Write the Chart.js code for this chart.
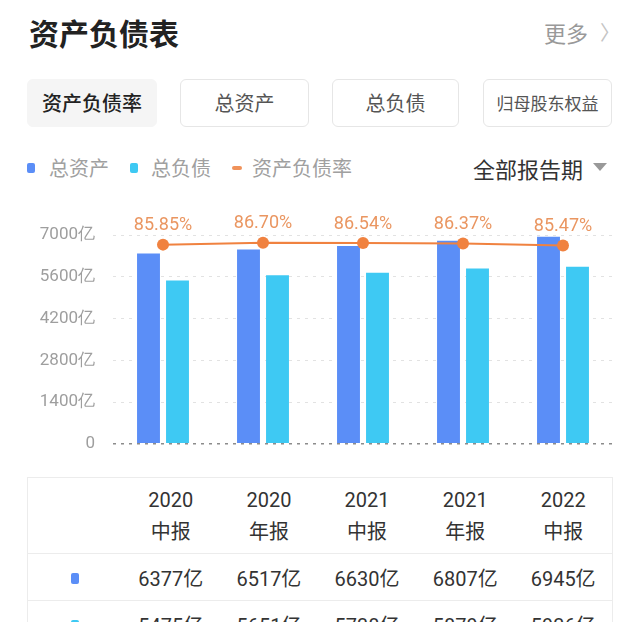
<!DOCTYPE html>
<html><head><meta charset="utf-8">
<script src="https://cdn.jsdelivr.net/npm/chart.js@4/dist/chart.umd.min.js"></script>
<style>
html,body{margin:0;padding:0}
body{width:640px;height:622px;overflow:hidden;background:#fff;font-family:"Noto Sans CJK SC",sans-serif;position:relative}
.a{position:absolute;white-space:nowrap}
.btn{position:absolute;top:79px;height:48px;box-sizing:border-box;border-radius:6px;text-align:center;line-height:46px;font-size:20px;color:#555;border:1.5px solid #e6e6e6;background:#fff}
.sq{position:absolute;width:8px;height:10px;border-radius:2px}
table{border-collapse:collapse;table-layout:fixed}
td{padding:0;text-align:center;color:#333;font-size:20px;font-family:Roboto,"Noto Sans CJK SC",sans-serif}
</style></head><body>
<div class="a" style="left:29px;top:14px;font-size:30px;line-height:36px;font-weight:bold;color:#222">资产负债表</div>
<div class="a" style="left:544px;top:18px;font-size:22px;line-height:28px;color:#999">更多</div>
<div class="a" style="left:600px;top:18px;font-size:20px;line-height:28px;color:#c4c4c4">〉</div>

<div class="btn" style="left:27px;width:130px;background:#f5f5f5;border-color:#f5f5f5;color:#222;font-weight:500">资产负债率</div>
<div class="btn" style="left:180px;width:129px">总资产</div>
<div class="btn" style="left:332px;width:127px">总负债</div>
<div class="btn" style="left:483px;width:129px;font-size:17px">归母股东权益</div>

<div class="sq" style="left:27px;top:163px;background:#5b8ef7"></div>
<div class="a" style="left:49px;top:154px;font-size:20px;line-height:28px;color:#a0a0a0">总资产</div>
<div class="sq" style="left:130px;top:163px;background:#3ec9f3"></div>
<div class="a" style="left:151px;top:154px;font-size:20px;line-height:28px;color:#a0a0a0">总负债</div>
<div class="a" style="left:232px;top:166px;width:10px;height:4px;border-radius:2px;background:#f0925a"></div>
<div class="a" style="left:252px;top:154px;font-size:20px;line-height:28px;color:#a0a0a0">资产负债率</div>
<div class="a" style="left:473px;top:153px;font-size:22px;line-height:30px;color:#333">全部报告期</div>
<div class="a" style="left:593px;top:163px;width:0;height:0;border-left:7.5px solid transparent;border-right:7.5px solid transparent;border-top:8px solid #999"></div>

<canvas id="c" width="640" height="272" style="position:absolute;left:0;top:200px"></canvas>

<div class="a" style="left:27px;top:477px;">
<table id="tbl" style="width:586px;border:1.5px solid #ececec"></table>
</div>

<script>
const years = ['2020','2020','2021','2021','2022'];
const reportTypes = ['中报','年报','中报','年报','中报'];
const totalAssets = [6377, 6517, 6630, 6807, 6945];
const totalLiabilities = [5475, 5651, 5738, 5879, 5936];
const debtRatio = [85.85, 86.70, 86.54, 86.37, 85.47];
const yTicks = [0, 1400, 2800, 4200, 5600, 7000];

const COLORS = {assets:'#5b8ef7', liab:'#3ec9f3', ratio:'#f08240', ratioText:'#ea9661'};

const labelPlugin = {
  id:'pctLabels',
  afterDatasetsDraw(chart){
    const meta = chart.getDatasetMeta(0);
    const c = chart.ctx;
    c.save();
    c.font = '18px Roboto';
    c.fillStyle = COLORS.ratioText;
    c.textAlign = 'center';
    c.textBaseline = 'middle';
    meta.data.forEach((pt,i)=>{ c.fillText(debtRatio[i].toFixed(2)+'%', pt.x, pt.y-19); });
    c.restore();
  }
};

new Chart(document.getElementById('c'), {
  data: {
    labels: years.map((y,i)=>y+reportTypes[i]),
    datasets: [
      {type:'line', label:'资产负债率', data:debtRatio, yAxisID:'y1', borderColor:COLORS.ratio, backgroundColor:COLORS.ratio,
       borderWidth:2, pointRadius:6, pointHoverRadius:6, pointBorderWidth:0, tension:0, order:0},
      {type:'bar', label:'总资产', data:totalAssets, yAxisID:'y', backgroundColor:COLORS.assets, categoryPercentage:0.58, barPercentage:0.79, order:1},
      {type:'bar', label:'总负债', data:totalLiabilities, yAxisID:'y', backgroundColor:COLORS.liab, categoryPercentage:0.58, barPercentage:0.79, order:1}
    ]
  },
  options: {
    responsive:false, animation:false, devicePixelRatio:1,
    layout:{padding:{left:0,right:27,top:35,bottom:5}},
    plugins:{legend:{display:false}, tooltip:{enabled:false}},
    scales:{
      x:{display:false},
      y:{
        min:0, max:7000,
        afterBuildTicks: axis => { axis.ticks = yTicks.map(v=>({value:v})); },
        afterFit: axis => { axis.width = 113; },
        ticks:{callback:v=>v===0?'0':v+'亿', color:'#9e9e9e', font:{size:17, family:'Roboto'}, padding:18},
        grid:{drawTicks:false, color:c=>(c.tick && c.tick.value===0)?'#8c8c8c':'#e2e2e2', lineWidth:c=>(c.tick && c.tick.value===0)?1.5:1},
        border:{display:false, dash:[3,5]}
      },
      y1:{display:false, min:0, max:90}
    }
  },
  plugins:[labelPlugin]
});

const tbl = document.getElementById('tbl');
let html = '<colgroup><col style="width:94px">' + years.map(()=>'<col style="width:98px">').join('') + '</colgroup>';
html += '<tr style="height:76px;border-bottom:1.5px solid #ececec"><td></td>' +
  years.map((y,i)=>'<td style="line-height:32px">'+y+'<br>'+reportTypes[i]+'</td>').join('') + '</tr>';
const rows = [[COLORS.assets,totalAssets],[COLORS.liab,totalLiabilities]];
rows.forEach(([col,vals])=>{
  html += '<tr style="height:47px;border-bottom:1.5px solid #ececec"><td><span style="display:inline-block;width:8px;height:11px;border-radius:2px;background:'+col+';vertical-align:middle"></span></td>' +
    vals.map(v=>'<td>'+v+'亿</td>').join('') + '</tr>';
});
html += '<tr style="height:47px"><td><span style="display:inline-block;width:10px;height:4px;border-radius:2px;background:'+COLORS.ratio+';vertical-align:middle"></span></td>' +
  debtRatio.map(v=>'<td>'+v.toFixed(2)+'%</td>').join('') + '</tr>';
tbl.innerHTML = html;
</script>
</body></html>
